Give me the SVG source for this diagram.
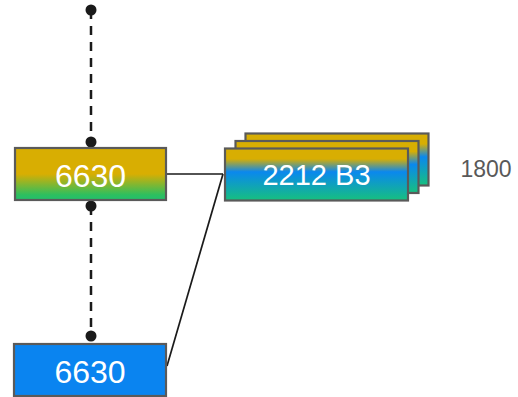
<svg xmlns="http://www.w3.org/2000/svg" width="518" height="397" viewBox="0 0 518 397">
<style>
.box{stroke:#5a5a5a;stroke-width:2.2}
.lbl{font-family:"Liberation Sans",Arial,sans-serif;fill:#ffffff;text-anchor:middle}
.dash{stroke:#1a1a1a;stroke-width:2.5;stroke-dasharray:9 7;fill:none}
.conn{stroke:#1a1a1a;stroke-width:1.7;fill:none}
.dot{fill:#1a1a1a}
</style>
<defs>
<linearGradient id="gGold" x1="0" y1="0" x2="0" y2="1">
<stop offset="0" stop-color="#d8ae02"/>
<stop offset="0.5" stop-color="#d8ae02"/>
<stop offset="0.9" stop-color="#2dbf5f"/>
<stop offset="1" stop-color="#22bf6c"/>
</linearGradient>
<linearGradient id="gStack" x1="0" y1="0" x2="0" y2="1">
<stop offset="0" stop-color="#d8ae02"/>
<stop offset="0.2" stop-color="#d8ae02"/>
<stop offset="0.45" stop-color="#0a88ee"/>
<stop offset="1" stop-color="#16c07e"/>
</linearGradient>
</defs>
<g id="connectors">
<line class="dash" x1="91" y1="10" x2="91" y2="142"/>
<line class="dash" x1="91" y1="206" x2="91" y2="336"/>
<circle class="dot" cx="91" cy="10" r="5.5"/>
<circle class="dot" cx="91" cy="142" r="5.5"/>
<circle class="dot" cx="91" cy="206" r="5.5"/>
<circle class="dot" cx="91" cy="336" r="5.5"/>
<polyline class="conn" points="166,174 223,174"/>
<polyline class="conn" points="223,174 167,366"/>
</g>
<g id="node-6630-top">
<rect class="box" x="15" y="148" width="151" height="52" fill="url(#gGold)"/>
<text class="lbl" x="90.5" y="186.5" font-size="32">6630</text>
</g>
<g id="node-6630-bottom">
<rect class="box" x="14" y="344" width="152" height="52" fill="#0a84f0"/>
<text class="lbl" x="90" y="382.5" font-size="32">6630</text>
</g>
<g id="node-2212-B3">
<rect class="box" x="245.5" y="133.5" width="183" height="52" fill="url(#gStack)"/>
<rect class="box" x="235.5" y="141" width="183" height="52" fill="url(#gStack)"/>
<rect class="box" x="225" y="148.5" width="183" height="52" fill="url(#gStack)"/>
<text class="lbl" x="316.5" y="185" font-size="29">2212 B3</text>
</g>
<g id="label-1800">
<text x="486" y="176.5" font-size="23" font-family="'Liberation Sans',Arial,sans-serif" fill="#595959" text-anchor="middle">1800</text>
</g>
</svg>
